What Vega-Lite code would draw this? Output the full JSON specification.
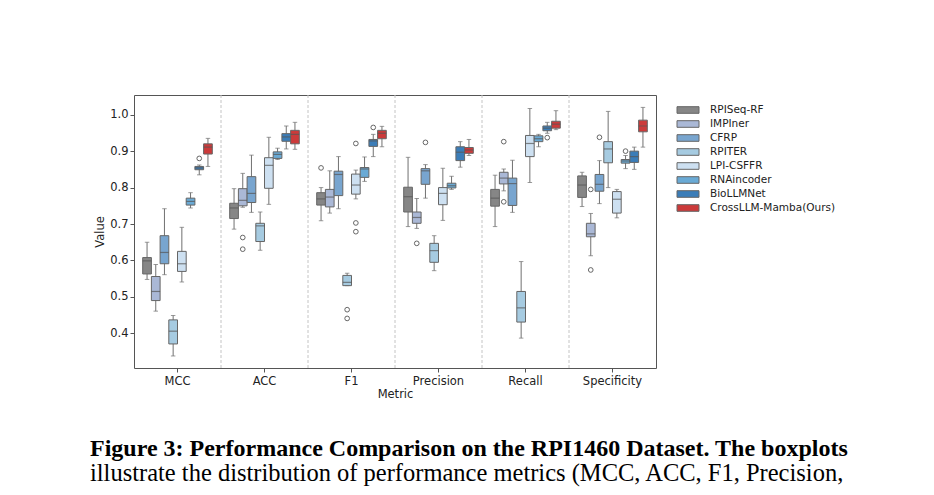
{
  "$schema": "https://vega.github.io/schema/vega-lite/v6.json",
  "autosize": {"type": "none"},
  "padding": {"left": 134, "top": 95, "right": 278, "bottom": 127},
  "width": 522,
  "height": 273,
  "background": "white",
  "config": {
    "font": "DejaVu Sans",
    "view": {"stroke": "#555555", "strokeWidth": 1}
  },
  "title": {
    "text": "Figure 3: Performance Comparison on the RPI1460 Dataset. The boxplots",
    "subtitle": "illustrate the distribution of performance metrics (MCC, ACC, F1, Precision,",
    "orient": "bottom",
    "anchor": "start",
    "frame": "group",
    "dx": -44,
    "offset": 37,
    "font": "Liberation Serif",
    "fontSize": 24,
    "fontWeight": "bold",
    "color": "#000000",
    "subtitleFont": "Liberation Serif",
    "subtitleFontSize": 24.5,
    "subtitleColor": "#000000",
    "subtitlePadding": 1
  },
  "datasets": {
    "boxes": [
      {"metric": "MCC", "model": "RPISeq-RF", "lo": 0.548, "q1": 0.563, "med": 0.599, "q3": 0.608, "hi": 0.650},
      {"metric": "MCC", "model": "IMPIner", "lo": 0.461, "q1": 0.490, "med": 0.515, "q3": 0.556, "hi": 0.589},
      {"metric": "MCC", "model": "CFRP", "lo": 0.561, "q1": 0.591, "med": 0.622, "q3": 0.668, "hi": 0.742},
      {"metric": "MCC", "model": "RPITER", "lo": 0.338, "q1": 0.371, "med": 0.406, "q3": 0.437, "hi": 0.449},
      {"metric": "MCC", "model": "LPI-CSFFR", "lo": 0.541, "q1": 0.570, "med": 0.591, "q3": 0.625, "hi": 0.691},
      {"metric": "MCC", "model": "RNAincoder", "lo": 0.744, "q1": 0.752, "med": 0.762, "q3": 0.771, "hi": 0.786},
      {"metric": "MCC", "model": "BioLLMNet", "lo": 0.835, "q1": 0.849, "med": 0.854, "q3": 0.858, "hi": 0.862},
      {"metric": "MCC", "model": "CrossLLM-Mamba(Ours)", "lo": 0.858, "q1": 0.892, "med": 0.911, "q3": 0.920, "hi": 0.935},
      {"metric": "ACC", "model": "RPISeq-RF", "lo": 0.686, "q1": 0.715, "med": 0.744, "q3": 0.757, "hi": 0.797},
      {"metric": "ACC", "model": "IMPIner", "lo": 0.746, "q1": 0.750, "med": 0.765, "q3": 0.797, "hi": 0.839},
      {"metric": "ACC", "model": "CFRP", "lo": 0.732, "q1": 0.759, "med": 0.784, "q3": 0.830, "hi": 0.889},
      {"metric": "ACC", "model": "RPITER", "lo": 0.628, "q1": 0.652, "med": 0.695, "q3": 0.702, "hi": 0.733},
      {"metric": "ACC", "model": "LPI-CSFFR", "lo": 0.754, "q1": 0.798, "med": 0.861, "q3": 0.882, "hi": 0.938},
      {"metric": "ACC", "model": "RNAincoder", "lo": 0.877, "q1": 0.880, "med": 0.891, "q3": 0.898, "hi": 0.908},
      {"metric": "ACC", "model": "BioLLMNet", "lo": 0.906, "q1": 0.927, "med": 0.939, "q3": 0.948, "hi": 0.969},
      {"metric": "ACC", "model": "CrossLLM-Mamba(Ours)", "lo": 0.905, "q1": 0.920, "med": 0.946, "q3": 0.957, "hi": 0.979},
      {"metric": "F1", "model": "RPISeq-RF", "lo": 0.709, "q1": 0.752, "med": 0.769, "q3": 0.786, "hi": 0.800},
      {"metric": "F1", "model": "IMPIner", "lo": 0.730, "q1": 0.747, "med": 0.774, "q3": 0.795, "hi": 0.846},
      {"metric": "F1", "model": "CFRP", "lo": 0.742, "q1": 0.778, "med": 0.836, "q3": 0.845, "hi": 0.885},
      {"metric": "F1", "model": "RPITER", "lo": 0.531, "q1": 0.531, "med": 0.540, "q3": 0.559, "hi": 0.565},
      {"metric": "F1", "model": "LPI-CSFFR", "lo": 0.769, "q1": 0.782, "med": 0.807, "q3": 0.837, "hi": 0.848},
      {"metric": "F1", "model": "RNAincoder", "lo": 0.817, "q1": 0.828, "med": 0.851, "q3": 0.855, "hi": 0.884},
      {"metric": "F1", "model": "BioLLMNet", "lo": 0.885, "q1": 0.913, "med": 0.928, "q3": 0.932, "hi": 0.946},
      {"metric": "F1", "model": "CrossLLM-Mamba(Ours)", "lo": 0.912, "q1": 0.934, "med": 0.949, "q3": 0.957, "hi": 0.968},
      {"metric": "Precision", "model": "RPISeq-RF", "lo": 0.693, "q1": 0.733, "med": 0.775, "q3": 0.801, "hi": 0.883},
      {"metric": "Precision", "model": "IMPIner", "lo": 0.688, "q1": 0.702, "med": 0.718, "q3": 0.733, "hi": 0.770},
      {"metric": "Precision", "model": "CFRP", "lo": 0.771, "q1": 0.809, "med": 0.846, "q3": 0.852, "hi": 0.863},
      {"metric": "Precision", "model": "RPITER", "lo": 0.572, "q1": 0.595, "med": 0.627, "q3": 0.647, "hi": 0.668},
      {"metric": "Precision", "model": "LPI-CSFFR", "lo": 0.710, "q1": 0.753, "med": 0.784, "q3": 0.800, "hi": 0.853},
      {"metric": "Precision", "model": "RNAincoder", "lo": 0.795, "q1": 0.799, "med": 0.805, "q3": 0.812, "hi": 0.831},
      {"metric": "Precision", "model": "BioLLMNet", "lo": 0.856, "q1": 0.874, "med": 0.897, "q3": 0.912, "hi": 0.926},
      {"metric": "Precision", "model": "CrossLLM-Mamba(Ours)", "lo": 0.888, "q1": 0.894, "med": 0.903, "q3": 0.910, "hi": 0.932},
      {"metric": "Recall", "model": "RPISeq-RF", "lo": 0.693, "q1": 0.749, "med": 0.771, "q3": 0.795, "hi": 0.834},
      {"metric": "Recall", "model": "IMPIner", "lo": 0.791, "q1": 0.810, "med": 0.826, "q3": 0.842, "hi": 0.851},
      {"metric": "Recall", "model": "CFRP", "lo": 0.732, "q1": 0.751, "med": 0.811, "q3": 0.826, "hi": 0.875},
      {"metric": "Recall", "model": "RPITER", "lo": 0.387, "q1": 0.431, "med": 0.470, "q3": 0.515, "hi": 0.597},
      {"metric": "Recall", "model": "LPI-CSFFR", "lo": 0.814, "q1": 0.885, "med": 0.921, "q3": 0.943, "hi": 1.017},
      {"metric": "Recall", "model": "RNAincoder", "lo": 0.912, "q1": 0.926, "med": 0.934, "q3": 0.942, "hi": 0.946},
      {"metric": "Recall", "model": "BioLLMNet", "lo": 0.949, "q1": 0.956, "med": 0.963, "q3": 0.969, "hi": 0.979},
      {"metric": "Recall", "model": "CrossLLM-Mamba(Ours)", "lo": 0.959, "q1": 0.963, "med": 0.974, "q3": 0.982, "hi": 1.011},
      {"metric": "Specificity", "model": "RPISeq-RF", "lo": 0.748, "q1": 0.773, "med": 0.807, "q3": 0.832, "hi": 0.842},
      {"metric": "Specificity", "model": "IMPIner", "lo": 0.613, "q1": 0.665, "med": 0.673, "q3": 0.702, "hi": 0.729},
      {"metric": "Specificity", "model": "CFRP", "lo": 0.756, "q1": 0.790, "med": 0.809, "q3": 0.836, "hi": 0.874},
      {"metric": "Specificity", "model": "RPITER", "lo": 0.800, "q1": 0.868, "med": 0.906, "q3": 0.926, "hi": 1.009},
      {"metric": "Specificity", "model": "LPI-CSFFR", "lo": 0.717, "q1": 0.730, "med": 0.768, "q3": 0.789, "hi": 0.795},
      {"metric": "Specificity", "model": "RNAincoder", "lo": 0.852, "q1": 0.867, "med": 0.873, "q3": 0.877, "hi": 0.888},
      {"metric": "Specificity", "model": "BioLLMNet", "lo": 0.850, "q1": 0.869, "med": 0.885, "q3": 0.900, "hi": 0.911},
      {"metric": "Specificity", "model": "CrossLLM-Mamba(Ours)", "lo": 0.911, "q1": 0.953, "med": 0.969, "q3": 0.985, "hi": 1.020}
    ],
    "outliers": [
      {"metric": "MCC", "model": "BioLLMNet", "v": 0.880},
      {"metric": "ACC", "model": "IMPIner", "v": 0.663},
      {"metric": "ACC", "model": "IMPIner", "v": 0.631},
      {"metric": "F1", "model": "RPISeq-RF", "v": 0.854},
      {"metric": "F1", "model": "RPITER", "v": 0.465},
      {"metric": "F1", "model": "RPITER", "v": 0.441},
      {"metric": "F1", "model": "LPI-CSFFR", "v": 0.921},
      {"metric": "F1", "model": "LPI-CSFFR", "v": 0.703},
      {"metric": "F1", "model": "LPI-CSFFR", "v": 0.679},
      {"metric": "F1", "model": "BioLLMNet", "v": 0.965},
      {"metric": "Precision", "model": "IMPIner", "v": 0.647},
      {"metric": "Precision", "model": "CFRP", "v": 0.924},
      {"metric": "Recall", "model": "IMPIner", "v": 0.926},
      {"metric": "Recall", "model": "IMPIner", "v": 0.761},
      {"metric": "Recall", "model": "BioLLMNet", "v": 0.937},
      {"metric": "Specificity", "model": "IMPIner", "v": 0.795},
      {"metric": "Specificity", "model": "IMPIner", "v": 0.574},
      {"metric": "Specificity", "model": "CFRP", "v": 0.938},
      {"metric": "Specificity", "model": "RNAincoder", "v": 0.900}
    ],
    "dividers": [
      {"metric": "ACC"}, {"metric": "F1"}, {"metric": "Precision"}, {"metric": "Recall"}, {"metric": "Specificity"}
    ]
  },
  "encoding": {
    "x": {
      "field": "metric",
      "type": "nominal",
      "scale": {"domain": ["MCC", "ACC", "F1", "Precision", "Recall", "Specificity"], "paddingInner": 0, "paddingOuter": 0},
      "axis": {
        "title": "Metric",
        "labelAngle": 0,
        "labelFontSize": 11.5,
        "labelColor": "#222222",
        "titleFontSize": 11.5,
        "titleFontWeight": "normal",
        "titleColor": "#222222",
        "titlePadding": 2,
        "labelPadding": 3,
        "tickSize": 4,
        "tickColor": "#555555",
        "domain": false,
        "grid": false
      }
    }
  },
  "layer": [
    {
      "data": {"name": "dividers"},
      "mark": {"type": "rule", "color": "#c4c4c4", "strokeDash": [3, 2], "strokeWidth": 1},
      "encoding": {
        "x": {"field": "metric", "type": "nominal", "bandPosition": 0}
      }
    },
    {
      "data": {"name": "boxes"},
      "mark": {"type": "rule", "color": "#707070", "strokeWidth": 1},
      "encoding": {
        "xOffset": {"field": "model", "type": "nominal", "scale": {"domain": ["RPISeq-RF", "IMPIner", "CFRP", "RPITER", "LPI-CSFFR", "RNAincoder", "BioLLMNet", "CrossLLM-Mamba(Ours)"], "paddingInner": 0, "paddingOuter": 1}},
        "y": {
          "field": "lo",
          "type": "quantitative",
          "scale": {"domain": [0.305, 1.054], "nice": false, "zero": false},
          "axis": {
            "title": "Value",
            "values": [0.4, 0.5, 0.6, 0.7, 0.8, 0.9, 1.0],
            "format": ".1f",
            "labelFontSize": 11.5,
            "labelColor": "#222222",
            "titleFontSize": 11.5,
            "titleFontWeight": "normal",
            "titleColor": "#222222",
            "titlePadding": 4,
            "labelPadding": 2,
            "tickSize": 4,
            "tickColor": "#555555",
            "domain": false,
            "grid": false
          }
        },
        "y2": {"field": "hi"}
      }
    },
    {
      "data": {"name": "boxes"},
      "mark": {"type": "tick", "color": "#707070", "size": 4.5, "thickness": 1},
      "encoding": {
        "xOffset": {"field": "model", "type": "nominal"},
        "y": {"field": "lo", "type": "quantitative"}
      }
    },
    {
      "data": {"name": "boxes"},
      "mark": {"type": "tick", "color": "#707070", "size": 4.5, "thickness": 1},
      "encoding": {
        "xOffset": {"field": "model", "type": "nominal"},
        "y": {"field": "hi", "type": "quantitative"}
      }
    },
    {
      "data": {"name": "boxes"},
      "mark": {"type": "bar", "stroke": "#666666", "strokeWidth": 1, "opacity": 1},
      "encoding": {
        "xOffset": {"field": "model", "type": "nominal"},
        "y": {"field": "q1", "type": "quantitative"},
        "y2": {"field": "q3"},
        "color": {
          "field": "model",
          "type": "nominal",
          "scale": {
            "domain": ["RPISeq-RF", "IMPIner", "CFRP", "RPITER", "LPI-CSFFR", "RNAincoder", "BioLLMNet", "CrossLLM-Mamba(Ours)"],
            "range": ["#868686", "#aab8d6", "#78a5cf", "#a6cbe1", "#cde0f1", "#6aaad5", "#3b7db8", "#cc3a3a"]
          },
          "legend": {
            "title": null,
            "orient": "right",
            "offset": 17,
            "symbolType": "M-2,-0.6H2V0.6H-2Z",
            "symbolSize": 121,
            "symbolStrokeColor": "#666666",
            "symbolStrokeWidth": 1,
            "symbolOpacity": 1,
            "labelFont": "DejaVu Sans",
            "labelFontSize": 10.5,
            "labelColor": "#222222",
            "labelOffset": 16,
            "rowPadding": 2,
            "padding": 9
          }
        }
      }
    },
    {
      "data": {"name": "boxes"},
      "mark": {"type": "tick", "color": "#555555", "size": 8.7, "thickness": 1.2},
      "encoding": {
        "xOffset": {"field": "model", "type": "nominal"},
        "y": {"field": "med", "type": "quantitative"}
      }
    },
    {
      "data": {"name": "outliers"},
      "mark": {"type": "point", "shape": "circle", "filled": false, "stroke": "#666666", "strokeWidth": 1, "size": 22, "opacity": 1},
      "encoding": {
        "xOffset": {"field": "model", "type": "nominal"},
        "y": {"field": "v", "type": "quantitative"}
      }
    }
  ]
}
